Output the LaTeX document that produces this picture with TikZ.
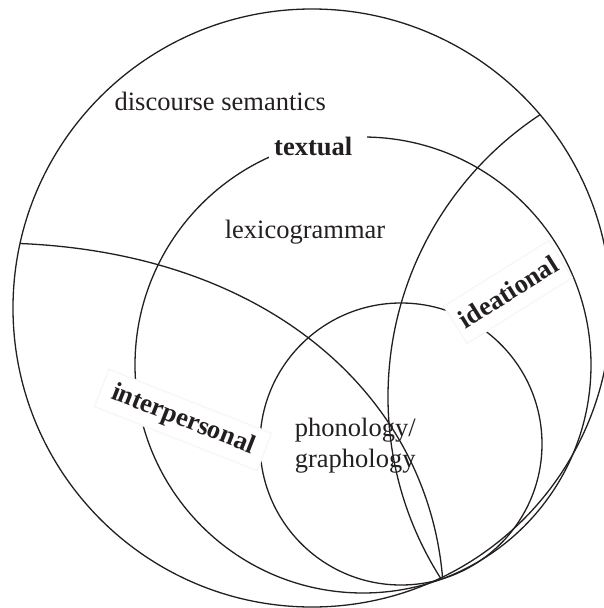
\documentclass[tikz,border=0pt]{standalone}
\usepackage{fontspec}
\setmainfont{Liberation Serif}
\definecolor{ink}{HTML}{231F20}
\begin{document}
\begin{tikzpicture}[x=1pt,y=-1pt,
  ring/.style={line width=1.3pt, draw=ink},
  plain/.style={font=\fontsize{26.5}{30}\selectfont, text=ink, inner sep=0pt, anchor=base west},
  tag/.style={font=\fontsize{26.5}{30}\bfseries\selectfont, text=ink, fill=white, inner sep=0pt},
  halo/.style={draw=black!3, line width=1.5pt},
]
\useasboundingbox (0,0) rectangle (604,608);
\clip (0,0) rectangle (604,608);

% centres of the strata and the meeting point at the bottom
\coordinate (O) at (312,308);
\coordinate (M) at (363,365);
\coordinate (S) at (401,444);
\coordinate (I) at (726,397);
\coordinate (L) at (20,243.5);
\coordinate (T) at (442.5,577);

% strata
\draw[ring] (O) circle[radius=299];
\draw[ring] (M) circle[radius=228];
\draw[ring] (S) circle[radius=141];

% metafunction boundaries
\begin{scope}
  \clip (O) circle[radius=299];
  \draw[ring] (I) circle[radius=338];
\end{scope}
\draw[ring] (L) .. controls (272,254) and (427,398) .. (T);

% stratum names
\node[plain] (ds) at (114.4,110.5) {discourse semantics};
\node[plain] (lg) at (224.6,238.8) {lexicogrammar};
\node[plain] (ph) at (294.7,436.5) {phonology/};
\node[plain] (gr) at (294.7,467) {graphology};

% metafunction names
\node[tag, anchor=base west, text width=87.5pt, inner xsep=5pt, inner ysep=3pt, align=left]
  (tx) at (269,155) {textual};
\node[tag, halo, rotate=32, minimum width=124pt, minimum height=44pt]
  (id) at (508,292) {ideational};
\node[tag, halo, rotate=-21.5, minimum width=175pt, minimum height=40pt]
  (ip) at (183,420) {interpersonal};
\end{tikzpicture}
\end{document}
